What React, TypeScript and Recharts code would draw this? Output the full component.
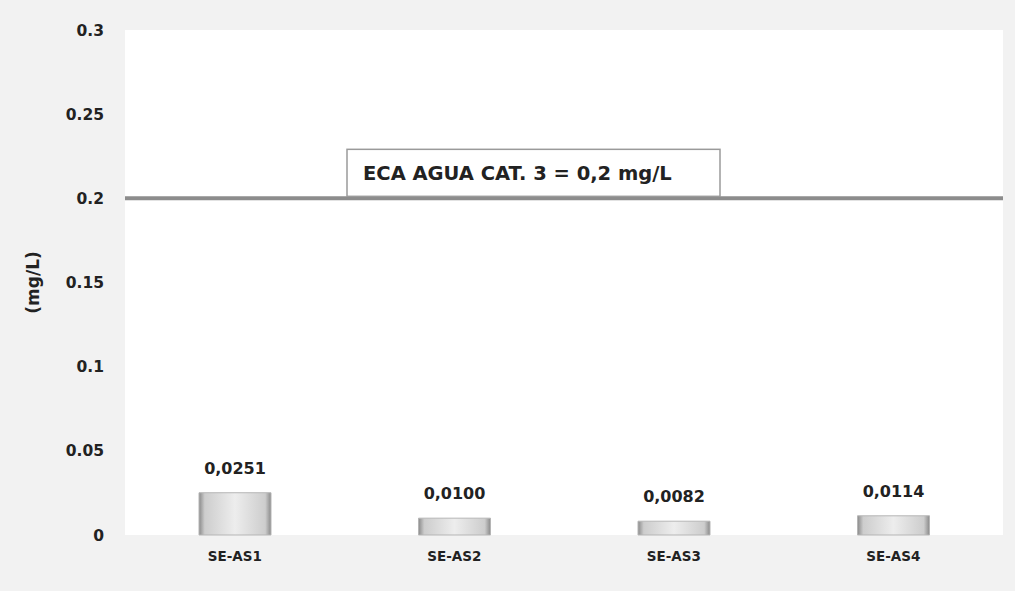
import React from "react";
import { BarChart, Bar, XAxis, YAxis, CartesianGrid, ReferenceLine, LabelList } from "recharts";

const stations = ["SE-AS1", "SE-AS2", "SE-AS3", "SE-AS4"];
const values = [0.0251, 0.01, 0.0082, 0.0114];
const yTicks = [0, 0.05, 0.1, 0.15, 0.2, 0.25, 0.3];
const limitValue = 0.2;
const limitText = "ECA AGUA CAT. 3 = 0,2 mg/L";

const data = stations.map((name, i) => ({ name, value: values[i] }));

const FONT = "'DejaVu Sans', Verdana, sans-serif";

const LimitLabel = (props: any) => {
  const { viewBox } = props;
  const x = viewBox.x + 222;
  const y = viewBox.y - 49;
  return (
    <g>
      <rect x={x} y={y} width={373} height={47} fill="#ffffff" stroke="#9a9a9a" strokeWidth={1.5} />
      <text x={x + 16} y={y + 31} fontFamily={FONT} fontWeight="bold" fontSize={19.5} fill="#222">
        {limitText}
      </text>
    </g>
  );
};

const App: React.FC = () => {
  return (
    <div style={{ position: "absolute", left: 0, top: 0, width: 1015, height: 591, background: "#f2f2f2" }}>
      <BarChart width={1015} height={591} data={data} margin={{ top: 30, right: 12, left: 0, bottom: 26 }} barSize={72}>
        <defs>
          <linearGradient id="barFill" x1="0" y1="0" x2="1" y2="0">
            <stop offset="0%" stopColor="#8a8a8a" />
            <stop offset="8%" stopColor="#cdcdcd" />
            <stop offset="50%" stopColor="#ededed" />
            <stop offset="92%" stopColor="#cdcdcd" />
            <stop offset="100%" stopColor="#8a8a8a" />
          </linearGradient>
        </defs>
        <CartesianGrid horizontal={false} vertical={false} fill="#ffffff" />
        <XAxis
          dataKey="name"
          axisLine={false}
          tickLine={false}
          height={30}
          tickMargin={10}
          tick={{ fontFamily: FONT, fontWeight: "bold", fontSize: 13.5, fill: "#222" }}
        />
        <YAxis
          domain={[0, 0.3]}
          ticks={yTicks}
          width={125}
          axisLine={false}
          tickLine={false}
          tickMargin={15}
          tick={{ fontFamily: FONT, fontWeight: "bold", fontSize: 15.5, fill: "#222" }}
          label={{
            value: "(mg/L)",
            angle: -90,
            position: "insideLeft",
            offset: 33,
            style: { fontFamily: FONT, fontWeight: "bold", fontSize: 17, fill: "#222", textAnchor: "middle" },
          }}
        />
        <ReferenceLine y={limitValue} stroke="#8c8c8c" strokeWidth={4} label={<LimitLabel />} />
        <Bar dataKey="value" fill="url(#barFill)" stroke="#b5b5b5" strokeWidth={1} isAnimationActive={false}>
          <LabelList
            dataKey="value"
            position="top"
            offset={19}
            formatter={(v: any) => Number(v).toFixed(4).replace(".", ",")}
            style={{ fontFamily: FONT, fontWeight: "bold", fontSize: 16, fill: "#222" }}
          />
        </Bar>
      </BarChart>
    </div>
  );
};

export default App;
